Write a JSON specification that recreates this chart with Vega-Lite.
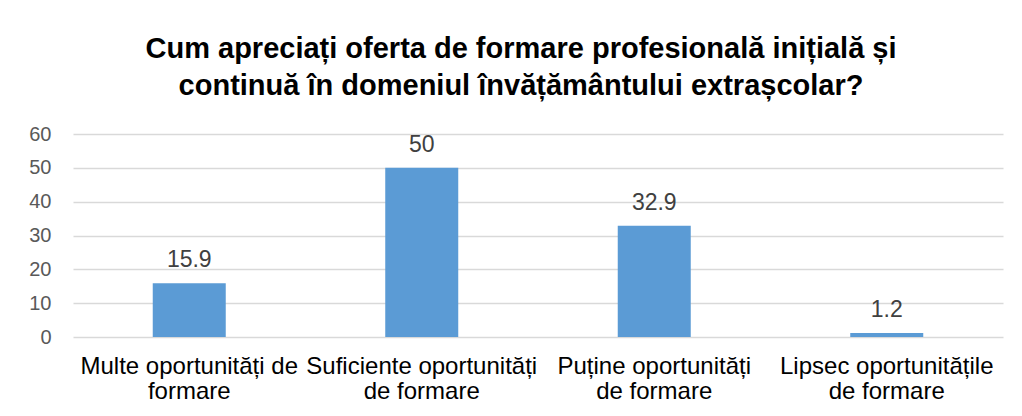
{
  "$schema": "https://vega.github.io/schema/vega-lite/v6.json",
  "width": 930,
  "height": 203,
  "autosize": "none",
  "padding": {"left": 73, "top": 134, "right": 19, "bottom": 79},
  "background": "white",
  "config": {"view": {"stroke": null}, "font": "Liberation Sans"},
  "title": {
    "text": ["Cum apreciați oferta de formare profesională inițială și", "continuă în domeniul învățământului extrașcolar?"],
    "font": "Liberation Sans",
    "fontSize": 29,
    "fontWeight": "bold",
    "color": "#000000",
    "lineHeight": 37,
    "anchor": "middle",
    "offset": 23,
    "dx": -17
  },
  "data": {
    "values": [
      {"categorie": "Multe oportunități de formare", "procent": 15.9},
      {"categorie": "Suficiente oportunități de formare", "procent": 50},
      {"categorie": "Puține oportunități de formare", "procent": 32.9},
      {"categorie": "Lipsec oportunitățile de formare", "procent": 1.2}
    ]
  },
  "encoding": {
    "x": {
      "field": "categorie",
      "type": "nominal",
      "sort": null,
      "scale": {"paddingInner": 0.686, "paddingOuter": 0.343},
      "axis": {
        "title": null,
        "labelAngle": 0,
        "domain": false,
        "ticks": false,
        "labelPadding": 17,
        "labelFont": "Liberation Sans",
        "labelFontSize": 24,
        "labelColor": "#000000",
        "labelLineHeight": 25,
        "labelLimit": 0,
        "labelBaseline": "top",
        "labelExpr": "datum.value == 'Multe oportunități de formare' ? ['Multe oportunități de', 'formare'] : datum.value == 'Suficiente oportunități de formare' ? ['Suficiente oportunități', 'de formare'] : datum.value == 'Puține oportunități de formare' ? ['Puține oportunități', 'de formare'] : ['Lipsec oportunitățile', 'de formare']"
      }
    },
    "y": {
      "field": "procent",
      "type": "quantitative",
      "scale": {"domain": [0, 60], "nice": false},
      "axis": {
        "title": null,
        "values": [0, 10, 20, 30, 40, 50, 60],
        "domain": false,
        "ticks": false,
        "labelPadding": 22,
        "labelFont": "Liberation Sans",
        "labelFontSize": 20,
        "labelColor": "#595959",
        "gridColor": "#D9D9D9",
        "gridWidth": 1.4
      }
    }
  },
  "layer": [
    {"mark": {"type": "bar", "color": "#5B9BD5"}},
    {
      "mark": {"type": "text", "baseline": "alphabetic", "dy": -16, "fontSize": 23, "color": "#404040", "font": "Liberation Sans"},
      "encoding": {"text": {"field": "procent", "type": "quantitative"}}
    }
  ]
}
